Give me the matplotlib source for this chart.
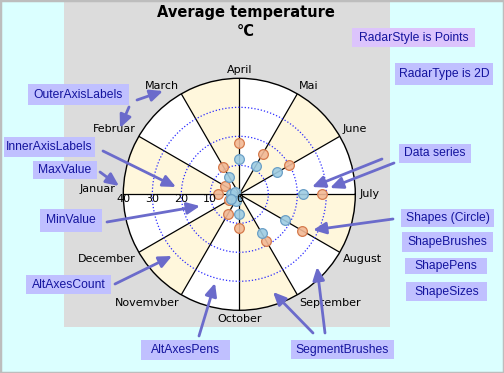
import numpy as np
import matplotlib
matplotlib.use('Agg')
import matplotlib.pyplot as plt
from matplotlib.patches import Rectangle, FancyArrowPatch

# ---------------- data ----------------
months = ['Januar', 'Februar', 'March', 'April', 'Mai', 'June', 'July',
          'August', 'September', 'October', 'Novemvber', 'December']
series_high = [7.5, 5.5, 10.9, 17.8, 16.1, 19.9, 28.4, 25.0, 18.7, 11.5, 7.8, 4.0]
series_low = [2.9, 1.8, 6.9, 12.2, 11.3, 15.1, 21.8, 18.0, 15.5, 6.8, 2.5, 3.5]
axis_ticks = [40, 30, 20, 10, 0]
alt_axes = [10, 20, 30]
r_max = 40
title = 'Average temperature'
subtitle = '°C'

W, H = 504, 373


def fx(x):
    return x / W


def fy(y):
    return 1 - y / H


fig = plt.figure(figsize=(W / 100, H / 100), dpi=100)
fig.patch.set_facecolor('#DBFFFF')

# grey panel
fig.add_artist(Rectangle((fx(64), fy(327)), (390 - 64) / W, 327 / H,
                         transform=fig.transFigure, fc='#DCDCDC', ec='none', zorder=-1))

# radar axes
cx, cy, R = 239.3, 194.3, 116
ax = fig.add_axes([fx(cx - R), fy(cy + R), 2 * R / W, 2 * R / H], projection='polar')
ax.set_facecolor('white')
ax.set_ylim(0, r_max)
ax.set_xticks([])
ax.set_yticks([])
ax.grid(False)
ax.spines['polar'].set_color('black')
ax.spines['polar'].set_linewidth(1.0)

n = len(months)
thetas = np.array([np.pi - i * np.pi / 6 for i in range(n)])
seg_centers = thetas - np.pi / 12
seg_colors = ['#FFF7DC' if i % 2 == 0 else 'white' for i in range(n)]
ax.bar(seg_centers, [r_max] * n, width=np.pi / 6, bottom=0, color=seg_colors,
       edgecolor='none', zorder=1)

for t in thetas:
    ax.plot([t, t], [0, r_max], color='black', lw=0.9, zorder=2)

tt = np.linspace(0, 2 * np.pi, 721)
for r in alt_axes:
    ax.plot(tt, [r] * len(tt), color='#2A2AFF', lw=0.9, ls=(0, (1, 1.6)), zorder=2)

ax.plot(thetas, series_high, 'o', ms=7, mfc=(0.95, 0.72, 0.58, 0.9), mec='#D57A4C',
        mew=0.9, zorder=3, clip_on=False)
ax.plot(thetas, series_low, 'o', ms=7, mfc=(0.62, 0.80, 0.89, 0.9), mec='#6A9FC6',
        mew=0.9, zorder=4, clip_on=False)

# month (outer) labels
for i, (t, m) in enumerate(zip(thetas, months)):
    c, s = np.cos(t), np.sin(t)
    ha = 'left' if c > 0.3 else ('right' if c < -0.3 else 'center')
    va = 'bottom' if s > 0.3 else ('top' if s < -0.3 else 'center')
    rr = 41.3
    if m == 'Januar':
        va = 'bottom'
        rr = 42.6
    ax.text(t, rr, m, ha=ha, va=va, fontsize=8, color='black', clip_on=False,
            family='DejaVu Sans')

# inner axis labels
for v in axis_ticks:
    ax.text(np.pi, v, str(v), ha='center', va='top', fontsize=8, color='black',
            zorder=5, family='DejaVu Sans')

# titles
fig.text(fx(246), fy(12), title, ha='center', va='center', fontsize=10.5,
         fontweight='bold', family='DejaVu Sans')
fig.text(fx(246), fy(31), subtitle, ha='center', va='center', fontsize=10.5,
         fontweight='bold', family='DejaVu Sans')

# callouts
box_col = '#C0C0FF'
txt_col = '#14149E'
arrow_col = '#6B6BCB'
callouts = [
    ('RadarStyle is Points', (352, 28, 475, 47), '#DCC4FC', []),
    ('RadarType is 2D', (395, 63, 493, 85), box_col, []),
    ('OuterAxisLabels', (28, 84, 129, 105), box_col,
     [(137, 100, 163, 91), (129, 107, 120, 128)]),
    ('InnerAxisLabels', (4, 137, 95, 157), box_col, [(103, 151, 176, 187)]),
    ('MaxValue', (33, 161, 97, 179), box_col, [(100, 172, 119, 186)]),
    ('MinValue', (40, 209, 102, 232), box_col, [(107, 222, 200, 206)]),
    ('Data series', (399, 144, 471, 163), box_col,
     [(382, 159, 312, 187), (394, 163, 330, 188)]),
    ('Shapes (Circle)', (401, 209, 494, 227), box_col, [(393, 219, 313, 230)]),
    ('ShapeBrushes', (402, 232, 493, 252), box_col, []),
    ('ShapePens', (405, 258, 487, 274), box_col, []),
    ('ShapeSizes', (406, 282, 487, 301), box_col, []),
    ('AltAxesCount', (26, 275, 111, 294), box_col, [(115, 284, 172, 256)]),
    ('AltAxesPens', (141, 340, 230, 360), box_col, [(199, 336, 215, 283)]),
    ('SegmentBrushes', (291, 340, 394, 359), box_col,
     [(313, 333, 273, 292), (325, 333, 317, 267)]),
]
for text, (x0, y0, x1, y1), col, arrows in callouts:
    fig.add_artist(Rectangle((fx(x0), fy(y1)), (x1 - x0) / W, (y1 - y0) / H,
                             transform=fig.transFigure, fc=col, ec='none', zorder=6))
    fig.text(fx((x0 + x1) / 2), fy((y0 + y1) / 2), text, ha='center', va='center',
             fontsize=8.7, color=txt_col, family='Liberation Sans', zorder=7)
    for (ax0, ay0, ax1, ay1) in arrows:
        fig.add_artist(FancyArrowPatch((fx(ax0), fy(ay0)), (fx(ax1), fy(ay1)),
                                       transform=fig.transFigure,
                                       arrowstyle='-|>,head_length=0.55,head_width=0.25',
                                       mutation_scale=14, color=arrow_col, lw=2,
                                       shrinkA=0, shrinkB=0, zorder=8))

# border
fig.add_artist(Rectangle((0, 0), 1, 1, transform=fig.transFigure, fill=False,
                         ec='#BDBDBD', lw=2.5, zorder=10))

fig.savefig('out.png', dpi=100, facecolor=fig.get_facecolor())
